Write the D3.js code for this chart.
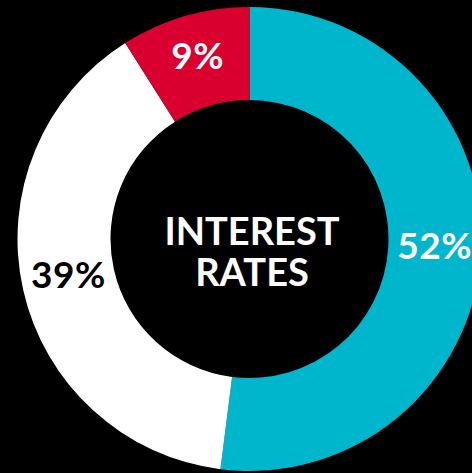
<!DOCTYPE html>
<html>
<head>
<meta charset="utf-8">
<script src="https://cdn.jsdelivr.net/npm/d3@7"></script>
<style>
  html, body { margin: 0; padding: 0; background: #000; }
  svg { display: block; }
</style>
</head>
<body>
<svg id="chart" width="472" height="473"></svg>
<script>
// Share of responses by category
const categories = ["A", "B", "C"];
const values = [52, 39, 9];
const labels = ["52%", "39%", "9%"];
const colors = ["#00b6cd", "#ffffff", "#d9002f"];
const labelColors = ["#ffffff", "#000000", "#ffffff"];
const centerLines = ["INTEREST", "RATES"];

const svg = d3.select("#chart");
const cx = 249.5, cy = 239;
const outerR = 232, innerR = 139;

const g = svg.append("g").attr("transform", `translate(${cx},${cy})`);

const pie = d3.pie().sort(null).value(d => d.value);
const arc = d3.arc().innerRadius(innerR).outerRadius(outerR);

const data = pie(categories.map((c, i) => ({ cat: c, value: values[i], i })));

g.selectAll("path.slice")
  .data(data)
  .join("path")
  .attr("class", "slice")
  .attr("d", arc)
  .attr("fill", d => colors[d.data.i]);

const font = "Lato, 'Open Sans', sans-serif";

g.selectAll("text.pct")
  .data(data)
  .join("text")
  .attr("class", "pct")
  .attr("transform", d => { const [x, y] = arc.centroid(d); return `translate(${x},${y + 8.5})`; })
  .attr("text-anchor", "middle")
  .attr("font-family", font)
  .attr("font-weight", 700)
  .attr("font-size", 37)
  .attr("letter-spacing", 0.5)
  .attr("fill", d => labelColors[d.data.i])
  .text(d => labels[d.data.i]);

g.selectAll("text.center")
  .data(centerLines)
  .join("text")
  .attr("class", "center")
  .attr("x", 2.5)
  .attr("y", (d, i) => 6 + i * 41)
  .attr("text-anchor", "middle")
  .attr("font-family", font)
  .attr("font-weight", 700)
  .attr("font-size", 38)
  .attr("fill", "#ffffff")
  .text(d => d);
</script>
</body>
</html>
